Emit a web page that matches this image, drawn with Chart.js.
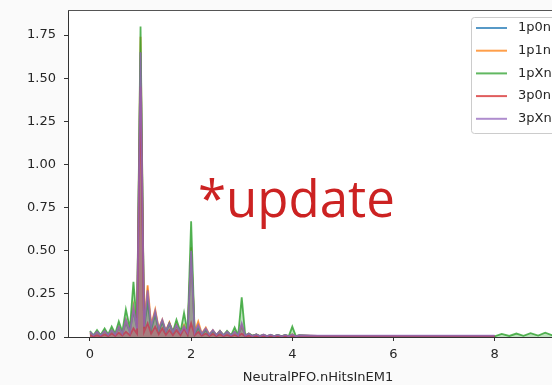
<!DOCTYPE html>
<html>
<head>
<meta charset="utf-8">
<script src="https://cdn.jsdelivr.net/npm/chart.js@4"></script>
<style>
  html, body { margin: 0; padding: 0; width: 552px; height: 385px; overflow: hidden; background: #fafafa; }
  #wrap { position: absolute; left: 0; top: 0; width: 575px; height: 385px; }
  #note { position: absolute; left: 198px; top: 172px; color: #cc2222; font-family: "Open Sans", sans-serif; font-size: 51px; line-height: 1; white-space: nowrap; }
</style>
</head>
<body>
<div id="wrap"><canvas id="c" width="575" height="385"></canvas></div>
<div id="note">*update</div>
<script>
/* bin positions (NeutralPFO.nHitsInEM1) */
var xs = [0, 0.07, 0.14, 0.21, 0.29, 0.36, 0.43, 0.5, 0.57, 0.64, 0.71, 0.79, 0.86, 0.93,
          1, 1.07, 1.14, 1.21, 1.29, 1.36, 1.43, 1.5, 1.57, 1.64, 1.71, 1.79, 1.86, 1.93,
          2, 2.07, 2.14, 2.21, 2.29, 2.36, 2.43, 2.5, 2.57, 2.64, 2.71, 2.79, 2.86, 2.93,
          3, 3.07, 3.14, 3.21, 3.29, 3.36, 3.43, 3.5, 3.57, 3.64, 3.71, 3.79, 3.86, 3.93,
          4, 4.07, 4.14, 4.5, 5, 5.5, 6, 6.5, 7, 7.5, 8, 8.14, 8.29, 8.43, 8.57, 8.71, 8.86, 9, 9.14, 9.29];

var labels = ['1p0n', '1p1n', '1pXn', '3p0n', '3pXn'];
var colors = ['#1f77b4', '#ff7f0e', '#2ca02c', '#d62728', '#9467bd'];

var s1p0n = [0.02, 0.008, 0.025, 0.01, 0.03, 0.01, 0.035, 0.012, 0.05, 0.018, 0.08, 0.03, 0.15, 0.05,
             1.65, 0.06, 0.25, 0.06, 0.14, 0.04, 0.09, 0.03, 0.075, 0.025, 0.065, 0.02, 0.06, 0.02,
             0.48, 0.02, 0.065, 0.015, 0.045, 0.012, 0.035, 0.01, 0.03, 0.01, 0.028, 0.008, 0.028, 0.008,
             0.06, 0.006, 0.018, 0.005, 0.014, 0.004, 0.012, 0.004, 0.01, 0.004, 0.01, 0.003, 0.01, 0.003,
             0.014, 0.003, 0.008, 0.006, 0.006, 0.006, 0.005, 0.005, 0.005, 0.005, 0.005, null, null, null, null, null, null, null, null, null];
var s1p1n = [0.025, 0.01, 0.03, 0.01, 0.035, 0.012, 0.04, 0.015, 0.06, 0.02, 0.1, 0.035, 0.18, 0.06,
             1.74, 0.07, 0.3, 0.07, 0.16, 0.05, 0.1, 0.035, 0.085, 0.03, 0.075, 0.025, 0.07, 0.025,
             0.52, 0.03, 0.09, 0.02, 0.055, 0.015, 0.04, 0.012, 0.035, 0.01, 0.03, 0.01, 0.03, 0.01,
             0.07, 0.008, 0.02, 0.006, 0.015, 0.005, 0.013, 0.004, 0.012, 0.004, 0.011, 0.004, 0.011, 0.004,
             0.016, 0.003, 0.009, 0.007, 0.006, 0.006, 0.006, 0.005, 0.005, 0.005, 0.005, null, null, null, null, null, null, null, null, null];
var s1pXn = [0.035, 0.01, 0.04, 0.012, 0.05, 0.015, 0.06, 0.02, 0.09, 0.03, 0.16, 0.05, 0.32, 0.06,
             1.80, 0.05, 0.2, 0.04, 0.13, 0.03, 0.09, 0.03, 0.08, 0.03, 0.1, 0.03, 0.14, 0.03,
             0.67, 0.02, 0.05, 0.015, 0.04, 0.012, 0.035, 0.01, 0.035, 0.01, 0.035, 0.01, 0.055, 0.01,
             0.23, 0.01, 0.02, 0.008, 0.015, 0.006, 0.012, 0.005, 0.012, 0.005, 0.012, 0.005, 0.012, 0.005,
             0.06, 0.005, 0.01, 0.004, 0.003, 0.003, 0.003, 0.003, 0.003, 0.003, 0.004, 0.018, 0.006, 0.02, 0.007, 0.022, 0.008, 0.025, 0.01, 0.02];
var s3p0n = [0.01, 0.004, 0.01, 0.004, 0.015, 0.005, 0.02, 0.006, 0.025, 0.008, 0.03, 0.01, 0.05, 0.02,
             1.45, 0.03, 0.08, 0.02, 0.06, 0.015, 0.05, 0.012, 0.04, 0.01, 0.04, 0.01, 0.05, 0.012,
             0.08, 0.01, 0.03, 0.008, 0.02, 0.006, 0.018, 0.005, 0.015, 0.005, 0.012, 0.004, 0.012, 0.004,
             0.02, 0.003, 0.008, 0.003, 0.006, 0.002, 0.006, 0.002, 0.005, 0.002, 0.005, 0.002, 0.005, 0.002,
             0.005, 0.002, 0.003, 0.003, 0.003, 0.003, 0.003, 0.003, 0.003, 0.003, 0.003, null, null, null, null, null, null, null, null, null];
var s3pXn = [0.03, 0.01, 0.03, 0.01, 0.035, 0.012, 0.04, 0.015, 0.06, 0.02, 0.1, 0.03, 0.17, 0.05,
             1.65, 0.06, 0.27, 0.06, 0.15, 0.045, 0.1, 0.035, 0.08, 0.03, 0.07, 0.025, 0.06, 0.025,
             0.5, 0.025, 0.07, 0.018, 0.05, 0.014, 0.04, 0.012, 0.035, 0.01, 0.03, 0.01, 0.03, 0.01,
             0.08, 0.008, 0.02, 0.006, 0.015, 0.005, 0.014, 0.005, 0.013, 0.005, 0.012, 0.004, 0.012, 0.004,
             0.015, 0.004, 0.01, 0.008, 0.008, 0.008, 0.008, 0.008, 0.008, 0.008, 0.008, null, null, null, null, null, null, null, null, null];

var series = [s1p0n, s1p1n, s1pXn, s3p0n, s3pXn];
var xTicks = [0, 2, 4, 6, 8];
var yTicks = [0, 0.25, 0.5, 0.75, 1.0, 1.25, 1.5, 1.75];

function rgba(hex, a) {
  var n = parseInt(hex.slice(1), 16);
  return 'rgba(' + (n >> 16) + ',' + ((n >> 8) & 255) + ',' + (n & 255) + ',' + a + ')';
}

var TICKFONT = { family: 'DejaVu Sans', size: 13 };

/* canvas background, white plot area, top/right spines, legend */
var frame = {
  id: 'frame',
  beforeDraw: function (ch) {
    var c = ch.ctx, a = ch.chartArea;
    c.save();
    c.fillStyle = '#fafafa';
    c.fillRect(0, 0, ch.width, ch.height);
    c.fillStyle = '#ffffff';
    c.fillRect(a.left, a.top, a.right - a.left, a.bottom - a.top);
    c.restore();
  },
  afterDraw: function (ch) {
    var c = ch.ctx, a = ch.chartArea;
    c.save();
    c.strokeStyle = '#555';
    c.lineWidth = 1;
    c.beginPath();
    c.moveTo(a.left, a.top + 0.5); c.lineTo(a.right, a.top + 0.5);
    c.moveTo(a.right - 0.5, a.top); c.lineTo(a.right - 0.5, a.bottom);
    c.stroke();

    var bx = 471, by = 17, bw = 110, bh = 116;
    c.fillStyle = 'rgba(255,255,255,0.85)';
    c.strokeStyle = '#cccccc';
    c.beginPath();
    c.roundRect(bx + 0.5, by + 0.5, bw, bh, 3);
    c.fill(); c.stroke();
    c.font = '13px "DejaVu Sans"';
    c.textBaseline = 'middle';
    labels.forEach(function (l, i) {
      var y = by + 11 + i * 22.7;
      c.strokeStyle = rgba(colors[i], 0.75);
      c.lineWidth = 2;
      c.beginPath(); c.moveTo(476, y); c.lineTo(507, y); c.stroke();
      c.fillStyle = '#262626';
      c.fillText(l, 518, y);
    });
    c.restore();
  }
};

new Chart(document.getElementById('c'), {
  type: 'line',
  data: {
    labels: xs,
    datasets: labels.map(function (l, i) {
      return {
        label: l,
        data: series[i].map(function (v, k) { return { x: xs[k], y: v }; }),
        borderColor: rgba(colors[i], 0.8),
        backgroundColor: rgba(colors[i], 0.3),
        borderWidth: 1.8,
        fill: 'origin',
        pointRadius: 0,
        tension: 0,
        order: labels.length - 1 - i
      };
    })
  },
  options: {
    responsive: false,
    animation: false,
    layout: { padding: { top: 10, right: 7, left: 0, bottom: 0 } },
    plugins: { legend: { display: false }, tooltip: { enabled: false } },
    scales: {
      x: {
        type: 'linear', min: -0.434, max: 9.45,
        afterBuildTicks: function (s) { s.ticks = xTicks.map(function (v) { return { value: v }; }); },
        afterFit: function (s) { s.height = 48; s.paddingLeft = 0; s.paddingRight = 0; },
        grid: { display: true, drawOnChartArea: false, drawTicks: true, tickLength: 4, color: '#333' },
        border: { display: true, color: '#333', width: 1 },
        ticks: { font: TICKFONT, color: '#262626', padding: 6, maxRotation: 0 },
        title: { display: true, text: 'NeutralPFO.nHitsInEM1', font: TICKFONT, color: '#262626', padding: { top: 2, bottom: 0 } }
      },
      y: {
        min: 0, max: 1.895,
        afterBuildTicks: function (s) { s.ticks = yTicks.map(function (v) { return { value: v }; }); },
        afterFit: function (s) { s.width = 68; s.paddingTop = 0; s.paddingBottom = 0; },
        grid: { display: true, drawOnChartArea: false, drawTicks: true, tickLength: 4, color: '#333' },
        border: { display: true, color: '#333', width: 1 },
        ticks: { font: TICKFONT, color: '#262626', padding: 8, callback: function (v) { return v.toFixed(2); } }
      }
    }
  },
  plugins: [frame]
});
</script>
</body>
</html>
